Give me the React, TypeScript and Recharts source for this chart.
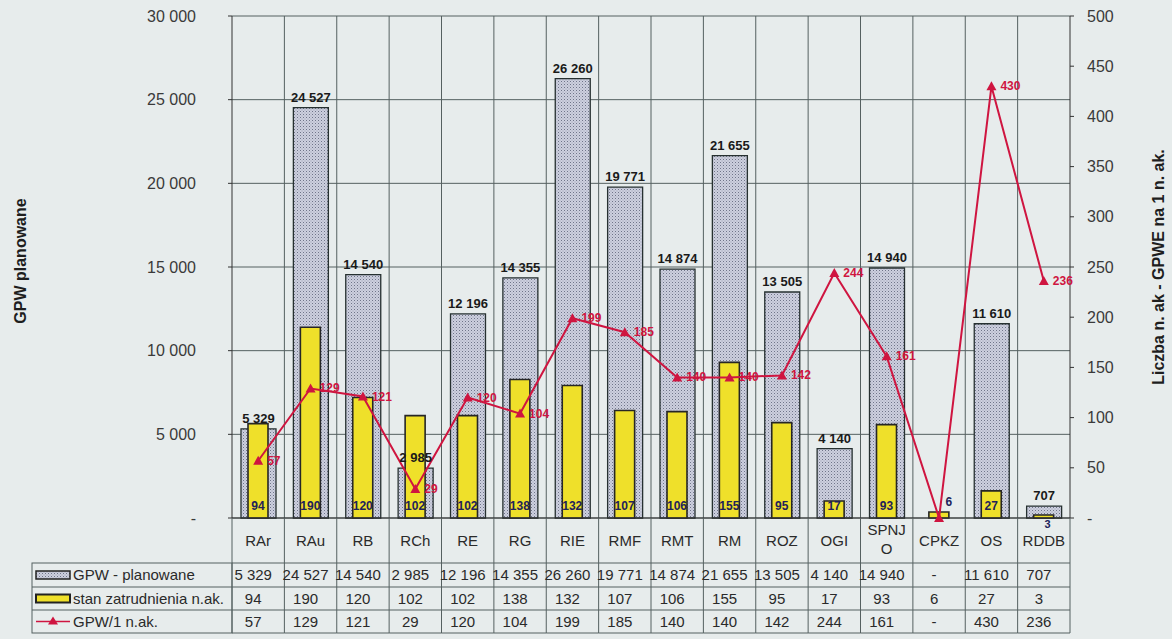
import React from 'react';
import { ComposedChart, Bar, Line, XAxis, YAxis, CartesianGrid, LabelList } from 'recharts';

const categories = ['RAr', 'RAu', 'RB', 'RCh', 'RE', 'RG', 'RIE', 'RMF', 'RMT', 'RM', 'ROZ', 'OGI', 'SPNJO', 'CPKZ', 'OS', 'RDDB'];
const gpwPlanned: (number | null)[] = [5329, 24527, 14540, 2985, 12196, 14355, 26260, 19771, 14874, 21655, 13505, 4140, 14940, null, 11610, 707];
const staffCount = [94, 190, 120, 102, 102, 138, 132, 107, 106, 155, 95, 17, 93, 6, 27, 3];
const gpwPerStaff: (number | null)[] = [57, 129, 121, 29, 120, 104, 199, 185, 140, 140, 142, 244, 161, null, 430, 236];
const leftTicks = [0, 5000, 10000, 15000, 20000, 25000, 30000];
const rightTicks = [0, 50, 100, 150, 200, 250, 300, 350, 400, 450, 500];

const legendNames = ['GPW - planowane', 'stan zatrudnienia n.ak.', 'GPW/1 n.ak.'];

// layout
const W = 1172;
const H = 639;
const PLOT_L = 232;
const PLOT_R = 1070;
const PLOT_T = 16;
const PLOT_B = 518;
const AXIS_W = 60;
const BAND = (PLOT_R - PLOT_L) / categories.length;
const ROWS = [563, 587, 610, 633];
const LEGEND_L = 32;

const FONT = '"Liberation Sans", Arial, sans-serif';
const GRID = '#556060';
const RED = '#cf1540';
const YELLOW = '#efe02a';

const fmt = (v: number | null) =>
  v == null ? '-' : String(v).replace(/\B(?=(\d{3})+(?!\d))/g, ' ');

const data = categories.map((name, i) => ({
  name,
  gpw: gpwPlanned[i],
  staff: staffCount[i],
  perStaff: gpwPerStaff[i] ?? 0,
}));

function LegendColumn() {
  const swatch = (row: number) => {
    const cy = (ROWS[row] + ROWS[row + 1]) / 2;
    if (row === 0)
      return <rect x={36} y={cy - 4} width={34} height={8} fill="url(#gpwDots)" stroke="#222" strokeWidth={1.5} />;
    if (row === 1)
      return <rect x={36} y={cy - 4} width={34} height={8} fill={YELLOW} stroke="#222" strokeWidth={2} />;
    return (
      <g>
        <line x1={36} y1={cy} x2={70} y2={cy} stroke={RED} strokeWidth={1.5} />
        <path d={`M53,${cy - 5} L58,${cy + 3} L48,${cy + 3} Z`} fill={RED} />
      </g>
    );
  };
  return (
    <g>
      <rect x={LEGEND_L} y={ROWS[0]} width={PLOT_L - LEGEND_L} height={ROWS[3] - ROWS[0]} fill="none" stroke={GRID} />
      {[1, 2].map((r) => (
        <line key={r} x1={LEGEND_L} y1={ROWS[r]} x2={PLOT_L} y2={ROWS[r]} stroke={GRID} />
      ))}
      {legendNames.map((n, r) => (
        <g key={n}>
          {swatch(r)}
          <text x={73} y={(ROWS[r] + ROWS[r + 1]) / 2 + 5} fontSize={15} fill="#2a2a2a" fontFamily={FONT}>
            {n}
          </text>
        </g>
      ))}
    </g>
  );
}

function TableTick(props: any) {
  const { x, payload, index } = props;
  const i = categories.indexOf(payload.value);
  const left = x - BAND / 2;
  const right = x + BAND / 2;
  const values = [fmt(gpwPlanned[i]), fmt(staffCount[i]), fmt(gpwPerStaff[i])];
  const label = payload.value === 'SPNJO' ? ['SPNJ', 'O'] : [payload.value];
  return (
    <g fontFamily={FONT}>
      {index === 0 && <LegendColumn />}
      {index === 0 && <line x1={left} y1={PLOT_B} x2={left} y2={ROWS[3]} stroke={GRID} />}
      <line x1={right} y1={PLOT_B} x2={right} y2={ROWS[3]} stroke={GRID} />
      {ROWS.map((ry) => (
        <line key={ry} x1={left} y1={ry} x2={right} y2={ry} stroke={GRID} />
      ))}
      {label.map((t, k) => (
        <text
          key={t}
          x={x}
          y={label.length === 1 ? 546 : 535 + k * 19}
          textAnchor="middle"
          fontSize={15}
          fill="#2a2a2a"
        >
          {t}
        </text>
      ))}
      {values.map((v, r) => (
        <text
          key={r}
          x={x - 5}
          y={(ROWS[r] + ROWS[r + 1]) / 2 + 5}
          textAnchor="middle"
          fontSize={15}
          fill="#2a2a2a"
        >
          {v}
        </text>
      ))}
    </g>
  );
}

const gpwLabel = (p: any) => {
  const { x, y, width, value } = p;
  if (value == null) return null;
  return (
    <text x={x + width / 2} y={y - 6} textAnchor="middle" fontSize={13} fontWeight="bold" fill="#1a1a1a" fontFamily={FONT}>
      {fmt(value)}
    </text>
  );
};

const staffLabel = (p: any) => {
  const { x, y, width, height, value } = p;
  const style = { fontSize: 12, fontWeight: 'bold' as const, fill: '#22225a', fontFamily: FONT };
  if (value < 5) {
    // too small for an inside label: put it just under the baseline
    return (
      <text x={x + width / 2 + 4} y={y + height + 10} textAnchor="middle" {...style} fontSize={11}>
        {value}
      </text>
    );
  }
  if (value < 10) {
    return (
      <text x={x + width / 2 + 10} y={y - 6} textAnchor="middle" {...style}>
        {value}
      </text>
    );
  }
  return (
    <text x={x + width / 2} y={y + height - 8} textAnchor="middle" {...style}>
      {value}
    </text>
  );
};

const ratioLabel = (p: any) => {
  const { x, y, index } = p;
  const raw = gpwPerStaff[index];
  if (raw == null) return null;
  return (
    <text x={x + 9} y={y + 4} fontSize={12} fontWeight="bold" fill={RED} fontFamily={FONT}>
      {raw}
    </text>
  );
};

const TriangleDot = (p: any) => {
  const { cx, cy, index } = p;
  return <path key={index} d={`M${cx},${cy - 5} L${cx + 5},${cy + 4} L${cx - 5},${cy + 4} Z`} fill={RED} />;
};

export default function App() {
  return (
    <div style={{ position: 'absolute', left: 0, top: 0, width: W, height: H, background: '#e7ecec', fontFamily: FONT }}>
      <ComposedChart
        width={W}
        height={H}
        data={data}
        margin={{ top: PLOT_T, right: W - PLOT_R - AXIS_W, bottom: 5, left: PLOT_L - AXIS_W }}
      >
        <defs>
          <pattern id="gpwDots" width="3" height="3" patternUnits="userSpaceOnUse">
            <rect width="3" height="3" fill="#cdd0df" />
            <rect width="1" height="1" fill="#6f7489" />
            <rect x="1.5" y="1.5" width="1" height="1" fill="#9a9eb2" />
          </pattern>
        </defs>
        <CartesianGrid
          xAxisId="a"
          yAxisId="left"
          stroke={GRID}
          strokeWidth={1}
          verticalPoints={categories.slice(1).map((_, k) => PLOT_L + (k + 1) * BAND)}
        />
        <XAxis
          xAxisId="a"
          dataKey="name"
          type="category"
          interval={0}
          height={H - PLOT_B - 5}
          tickLine={false}
          tickSize={0}
          tickMargin={0}
          axisLine={{ stroke: '#333' }}
          tick={<TableTick />}
        />
        <XAxis xAxisId="b" dataKey="name" type="category" hide />
        <YAxis
          yAxisId="left"
          orientation="left"
          width={AXIS_W}
          domain={[0, 30000]}
          ticks={leftTicks}
          interval={0}
          tickSize={4}
          tickMargin={32}
          tickFormatter={(v: number) => (v === 0 ? '-' : fmt(v))}
          tick={{ fill: '#3a3a3a', fontSize: 16, fontFamily: FONT }}
          axisLine={{ stroke: '#333' }}
          tickLine={{ stroke: '#333' }}
          label={{
            value: 'GPW planowane',
            angle: -90,
            position: 'insideLeft',
            offset: 0,
            dx: -152,
            dy: -6,
            style: { textAnchor: 'middle', fontWeight: 'bold', fontSize: 16, fill: '#1e1e1e', fontFamily: FONT },
          }}
        />
        <YAxis
          yAxisId="right"
          orientation="right"
          width={AXIS_W}
          domain={[0, 500]}
          ticks={rightTicks}
          interval={0}
          tickSize={4}
          tickMargin={13}
          tickFormatter={(v: number) => (v === 0 ? '-' : String(v))}
          tick={{ fill: '#3a3a3a', fontSize: 16, fontFamily: FONT, textAnchor: 'start' }}
          axisLine={{ stroke: '#333' }}
          tickLine={{ stroke: '#333' }}
          label={{
            value: 'Liczba n. ak - GPWE na 1 n. ak.',
            angle: -90,
            position: 'insideRight',
            offset: 0,
            dx: 28,
            style: { textAnchor: 'middle', fontWeight: 'bold', fontSize: 16, fill: '#1e1e1e', fontFamily: FONT },
          }}
        />
        <Bar
          xAxisId="a"
          yAxisId="left"
          dataKey="gpw"
          barSize={35}
          fill="url(#gpwDots)"
          stroke="#263030"
          strokeWidth={1.3}
          isAnimationActive={false}
        >
          <LabelList dataKey="gpw" content={gpwLabel} />
        </Bar>
        <Bar
          xAxisId="b"
          yAxisId="right"
          dataKey="staff"
          barSize={20}
          fill={YELLOW}
          stroke="#262626"
          strokeWidth={1.6}
          isAnimationActive={false}
        >
          <LabelList dataKey="staff" content={staffLabel} />
        </Bar>
        <Line
          xAxisId="a"
          yAxisId="right"
          dataKey="perStaff"
          stroke={RED}
          strokeWidth={2}
          dot={<TriangleDot />}
          activeDot={false}
          isAnimationActive={false}
        >
          <LabelList dataKey="perStaff" content={ratioLabel} />
        </Line>
      </ComposedChart>
    </div>
  );
}
